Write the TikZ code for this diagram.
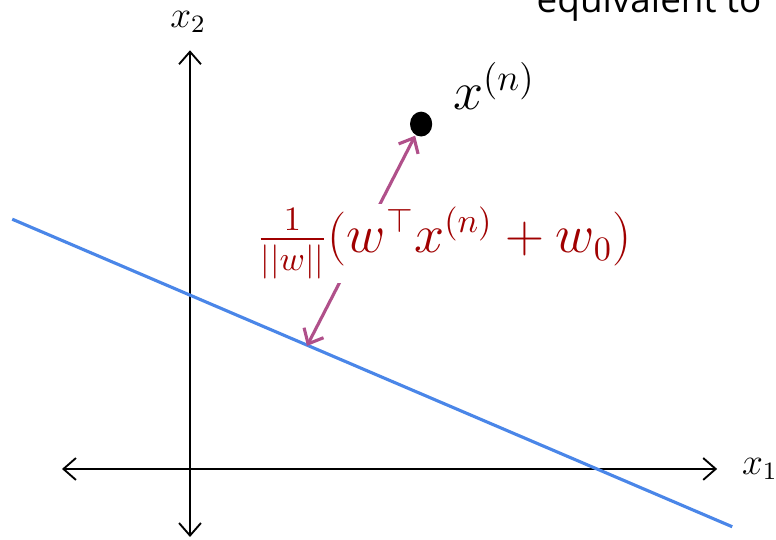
\documentclass[tikz,border=0pt]{standalone}
\usepackage{amsmath,amssymb}
\usepackage{fontspec}
\newfontfamily\notefont{Open Sans}
\usepackage{tikz}
\usetikzlibrary{arrows.meta,shapes.geometric}
\definecolor{lineblue}{HTML}{4A86E8}
\definecolor{distred}{HTML}{A00000}
\definecolor{arrowpurple}{HTML}{B0508A}

\begin{document}
\begin{tikzpicture}[>={Straight Barb[length=4pt,width=7pt]},semithick,every node/.style={inner sep=0pt},axislbl/.style={font=\large},boundary/.style={lineblue,line width=1pt},distarrow/.style={<->,arrowpurple,line width=1pt}]
\useasboundingbox (-2.1375,-0.799) rectangle (6.5925,5.276);
\node[anchor=base west,font=\notefont\fontsize{11.8}{14}\selectfont](note) at (3.89,5.14){equivalent to};
\coordinate(xl) at (-1.44,0);\coordinate(xr) at (5.93,0);
\coordinate(yb) at (0,-0.765);\coordinate(yt) at (0,4.71);
\draw[<->](xl)--(xr);\draw[<->](yb)--(yt);
\node[axislbl,anchor=west](xonelbl) at (6.2,0){$x_1$};
\node[axislbl](xtwolbl) at (-0.02,5.03){$x_2$};
\coordinate(la) at (-2.0,2.81);\coordinate(lb) at (6.10,-0.65);
\draw[boundary](la)--(lb);
\node[ellipse,fill,minimum width=0.25cm,minimum height=0.28cm](pt) at (2.60,3.88){};
\node[anchor=base west,font=\LARGE](ptlbl) at (2.95,4.04){$x^{(n)}$};
\coordinate(foot) at (1.316,1.384);
\draw[distarrow](foot)--(pt);
\node[fill=white,inner sep=1pt,text=distred,font=\fontsize{16}{19}\selectfont](dist) at (2.86,2.54){$\frac{1}{||w||}(w^\top x^{(n)}+w_0)$};
\end{tikzpicture}
\end{document}
